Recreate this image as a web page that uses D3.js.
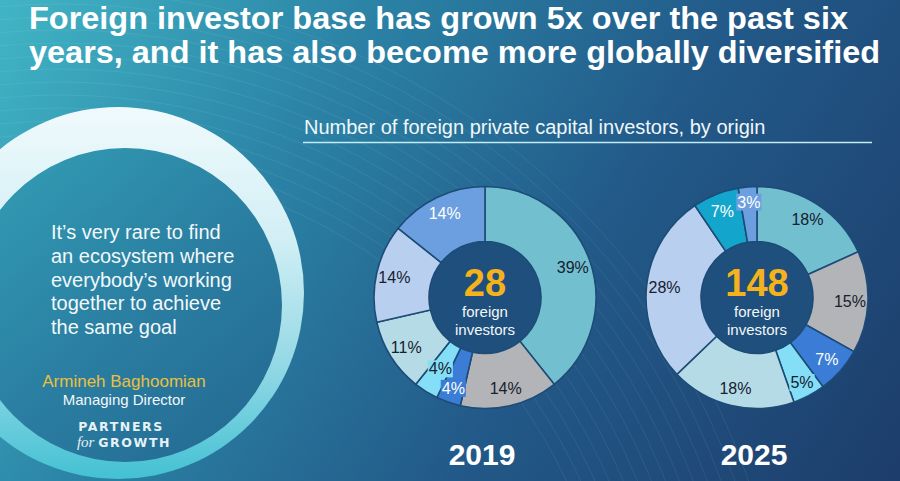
<!DOCTYPE html>
<html>
<head>
<meta charset="utf-8">
<script src="https://cdn.jsdelivr.net/npm/d3@7"></script>
<style>
  html, body { margin: 0; padding: 0; background: #215986; }
  svg { display: block; }
</style>
</head>
<body>
<svg id="chart"></svg>
<script>
// ---- data ----
var years = ["2019", "2025"];
var origins = ["Origin 1", "Origin 2", "Origin 3", "Origin 4", "Origin 5", "Origin 6", "Origin 7", "Origin 8"];
var investors2019 = [11, 4, 1, 1, 3, 4, 0, 4];
var investors2025 = [27, 22, 10, 7, 27, 41, 10, 4];

var titleLines = [
    "Foreign investor base has grown 5x over the past six",
    "years, and it has also become more globally diversified"
];
var subtitle = "Number of foreign private capital investors, by origin";
var quoteLines = [
    "It\u2019s very rare to find",
    "an ecosystem where",
    "everybody\u2019s working",
    "together to achieve",
    "the same goal"
];

// ---- styles ----
var sliceColors = ["#72bfd0", "#b3b4b7", "#3b7dd6", "#84def6", "#b5dce6", "#b9cfef", "#13a5cb", "#6c9fe0"];
var sliceText = ["#16202e", "#16202e", "#ffffff", "#16202e", "#16202e", "#16202e", "#ffffff", "#ffffff"];

var width = 900, height = 481;
var svg = d3.select("#chart").attr("width", width).attr("height", height);
var defs = svg.append("defs");

function linGrad(id, x1, y1, x2, y2, stops, units) {
    var g = defs.append("linearGradient").attr("id", id)
        .attr("x1", x1).attr("y1", y1).attr("x2", x2).attr("y2", y2);
    if (units) g.attr("gradientUnits", units);
    stops.forEach(function(s) {
        g.append("stop").attr("offset", s[0]).attr("stop-color", s[1]);
    });
}

linGrad("bg", 0, 0, 900, 560, [[0, "#41b5c5"], [0.3, "#2b83a6"], [0.6, "#225988"], [1, "#1c3a68"]], "userSpaceOnUse");
linGrad("disk", 0, 100, 330, 480, [[0, "#34a2b8"], [0.5, "#2a7ea1"], [1, "#22618c"]], "userSpaceOnUse");
linGrad("ring", 0, 0, 0, 1, [[0, "#f0fafc"], [0.35, "#d2eff5"], [0.7, "#92d8e5"], [1, "#43c1d3"]]);

// background
svg.append("rect").attr("width", width).attr("height", height).attr("fill", "url(#bg)");

// faint contour lines
var contours = svg.append("g").attr("fill", "none").attr("stroke", "#ffffff").attr("stroke-opacity", 0.07);
d3.range(0, 14).forEach(function(i) {
    contours.append("circle").attr("cx", 60).attr("cy", 720).attr("r", 560 + i * 13);
});

// quote ring: outer and inner circles slightly offset, thicker at top-left
var outer = {cx: 118, cy: 293, r: 186};
var inner = {cx: 125, cy: 305, r: 157};
function circlePath(c) {
    var p = d3.path();
    p.moveTo(c.cx + c.r, c.cy);
    p.arc(c.cx, c.cy, c.r, 0, 2 * Math.PI);
    p.closePath();
    return p.toString();
}
svg.append("path").attr("d", circlePath(outer)).attr("fill", "url(#ring)");
svg.append("path").attr("d", circlePath(inner)).attr("fill", "url(#disk)");

// title
svg.append("g").selectAll("text")
    .data(titleLines)
    .enter()
    .append("text")
    .attr("x", 29)
    .attr("y", function(d, i) { return 29 + i * 34; })
    .attr("font-family", "Liberation Sans, Arial, sans-serif")
    .attr("font-weight", "bold")
    .attr("font-size", "32px")
    .attr("fill", "#ffffff")
    .attr("textLength", function(d, i) { return i == 0 ? 819 : 851; })
    .attr("lengthAdjust", "spacingAndGlyphs")
    .text(function(d) { return d; });

// subtitle + rule
svg.append("text")
    .attr("x", 304).attr("y", 134)
    .attr("font-family", "Liberation Sans, Arial, sans-serif")
    .attr("font-size", "20px")
    .attr("fill", "#eef7fa")
    .text(subtitle);
svg.append("line")
    .attr("x1", 303).attr("x2", 872).attr("y1", 142.5).attr("y2", 142.5)
    .attr("stroke", "#c4ecf4").attr("stroke-width", 1.5);

// quote
svg.append("g").selectAll("text")
    .data(quoteLines)
    .enter()
    .append("text")
    .attr("x", 51)
    .attr("y", function(d, i) { return 239 + i * 23.8; })
    .attr("font-family", "Liberation Sans, Arial, sans-serif")
    .attr("font-size", "20px")
    .attr("fill", "#f2f8fa")
    .text(function(d) { return d; });

svg.append("text")
    .attr("x", 124).attr("y", 387).attr("text-anchor", "middle")
    .attr("font-family", "Liberation Sans, Arial, sans-serif")
    .attr("font-size", "17px").attr("fill", "#e9c040")
    .text("Armineh Baghoomian");
svg.append("text")
    .attr("x", 124).attr("y", 405).attr("text-anchor", "middle")
    .attr("font-family", "Liberation Sans, Arial, sans-serif")
    .attr("font-size", "15px").attr("fill", "#f2f8fa")
    .text("Managing Director");

// logo
svg.append("text")
    .attr("x", 121).attr("y", 431).attr("text-anchor", "middle")
    .attr("font-family", "DejaVu Sans, sans-serif")
    .attr("font-size", "12.5px").attr("font-weight", "bold")
    .attr("letter-spacing", "1.6px").attr("fill", "#e6f2f5")
    .text("PARTNERS");
var logo2 = svg.append("text")
    .attr("x", 124).attr("y", 447).attr("text-anchor", "middle")
    .attr("fill", "#e6f2f5");
logo2.append("tspan")
    .attr("font-family", "Liberation Serif, serif").attr("font-style", "italic")
    .attr("font-size", "15px")
    .text("for ");
logo2.append("tspan")
    .attr("font-family", "DejaVu Sans, sans-serif").attr("font-weight", "bold")
    .attr("font-size", "12.5px").attr("letter-spacing", "1.6px")
    .text("GROWTH");

// ---- donuts ----
var outerR = 111, innerR = 56;
var cy = 297.5;
var x = d3.scalePoint().domain(years).range([485, 757]);
var series = [investors2019, investors2025];

var pie = d3.pie().sort(null).value(function(d) { return d.v; });
var arc = d3.arc().innerRadius(innerR).outerRadius(outerR);

years.forEach(function(year, yi) {
    var values = series[yi].map(function(v, i) {
        return {origin: origins[i], v: v, color: sliceColors[i], text: sliceText[i]};
    }).filter(function(d) { return d.v > 0; });
    var total = d3.sum(values, function(d) { return d.v; });
    var arcs = pie(values);

    var g = svg.append("g").attr("transform", "translate(" + x(year) + "," + cy + ")");

    g.append("circle").attr("r", innerR).attr("fill", "#1e4f7d");

    g.selectAll("path.slice")
        .data(arcs)
        .enter()
        .append("path")
        .attr("class", "slice")
        .attr("d", arc)
        .attr("fill", function(d) { return d.data.color; })
        .attr("stroke", "#1d4c77")
        .attr("stroke-width", 1.6);

    // percent labels; small slices get a box, consecutive small ones pulled inward
    var prevSmall = false;
    arcs.forEach(function(d) {
        var frac = d.data.v / total;
        var small = frac < 0.06;
        var r = small ? (prevSmall ? 84 : 96) : 93;
        prevSmall = small;
        var a = (d.startAngle + d.endAngle) / 2;
        var lx = Math.sin(a) * r, ly = -Math.cos(a) * r;
        var lg = g.append("g");
        var t = lg.append("text")
            .attr("x", lx).attr("y", ly).attr("dy", "0.36em")
            .attr("text-anchor", "middle")
            .attr("font-family", "Liberation Sans, Arial, sans-serif")
            .attr("font-size", "16px")
            .attr("fill", d.data.text)
            .text(Math.round(frac * 100) + "%");
        if (small) {
            var bb = t.node().getBBox();
            lg.insert("rect", "text")
                .attr("x", bb.x - 1).attr("y", bb.y)
                .attr("width", bb.width + 2).attr("height", bb.height)
                .attr("fill", d.data.color);
        }
    });

    // centre
    g.append("text")
        .attr("y", -2).attr("text-anchor", "middle")
        .attr("font-family", "Liberation Sans, Arial, sans-serif")
        .attr("font-weight", "bold").attr("font-size", "38px")
        .attr("fill", "#f6b21c")
        .text(total);
    g.selectAll("text.sub")
        .data(["foreign", "investors"])
        .enter()
        .append("text")
        .attr("class", "sub")
        .attr("y", function(d, i) { return 19 + i * 18; })
        .attr("text-anchor", "middle")
        .attr("font-family", "Liberation Sans, Arial, sans-serif")
        .attr("font-size", "15px")
        .attr("fill", "#f2f8fa")
        .text(function(d) { return d; });

    // year
    svg.append("text")
        .attr("x", x(year) - 3).attr("y", 465)
        .attr("text-anchor", "middle")
        .attr("font-family", "Liberation Sans, Arial, sans-serif")
        .attr("font-weight", "bold").attr("font-size", "30px")
        .attr("fill", "#ffffff")
        .text(year);
});
</script>
</body>
</html>
